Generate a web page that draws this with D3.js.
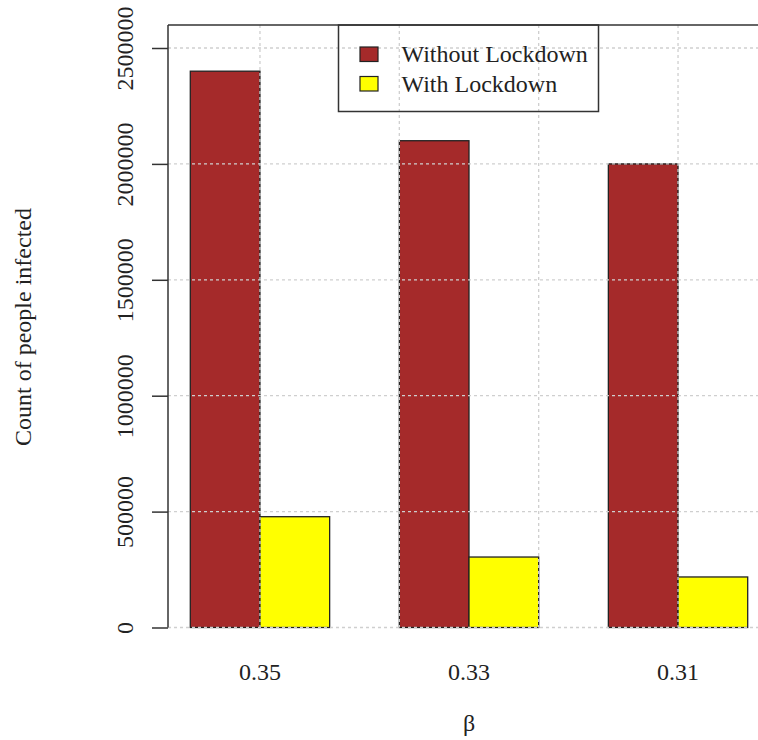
<!DOCTYPE html>
<html><head><meta charset="utf-8">
<script src="https://cdn.jsdelivr.net/npm/d3@7"></script>
<style>html,body{margin:0;padding:0;background:#fff;overflow:hidden}</style>
</head><body>
<script>
const categories = ["0.35", "0.33", "0.31"];
const seriesNames = ["Without Lockdown", "With Lockdown"];
const withoutLockdown = [2400000, 2100000, 2000000];
const withLockdown = [478000, 304000, 218000];
const yTicks = [0, 500000, 1000000, 1500000, 2000000, 2500000];
const xGridUnits = [2, 4, 6, 8];
const colors = ["#A52A2A", "#FFFF00"];

const W = 758, H = 740;
const svg = d3.select("body").append("svg").attr("width", W).attr("height", H);
const font = "'Liberation Serif','Times New Roman',serif";
const fs = 24;

// R barplot-like unit scale: groups of 2 bars with 1 unit space before
const x = d3.scaleLinear().domain([0.68, 9.32]).range([168, 770]);
const y = d3.scaleLinear().domain([0, 2500000]).range([627.5, 48]);

const data = categories.map((c, i) => ({cat: c, vals: [withoutLockdown[i], withLockdown[i]], start: 1 + i * 3}));

// bars
const g = svg.append("g");
data.forEach(d => {
  d.vals.forEach((v, j) => {
    g.append("rect")
      .attr("x", x(d.start + j)).attr("width", x(d.start + j + 1) - x(d.start + j))
      .attr("y", y(v)).attr("height", y(0) - y(v))
      .attr("fill", colors[j]).attr("stroke", "#222").attr("stroke-width", 1.3);
  });
});

// grid (drawn on top)
const grid = svg.append("g").attr("stroke", "#cfcfcf").attr("stroke-width", 1.3).attr("stroke-dasharray", "3,3");
yTicks.forEach(t => grid.append("line").attr("x1", 168).attr("x2", 770).attr("y1", y(t)).attr("y2", y(t)));
xGridUnits.forEach(u => grid.append("line").attr("x1", x(u)).attr("x2", x(u)).attr("y1", 25).attr("y2", 627.5));

// axis frame lines
svg.append("line").attr("x1", 168).attr("x2", 168).attr("y1", 25).attr("y2", 627.5).attr("stroke", "#333").attr("stroke-width", 1.5);
svg.append("line").attr("x1", 168).attr("x2", 770).attr("y1", 25).attr("y2", 25).attr("stroke", "#333").attr("stroke-width", 1.5);

// y axis ticks & labels
const yAxis = d3.axisLeft(y).tickValues(yTicks).tickSize(16).tickFormat(d3.format("d"));
const ya = svg.append("g").attr("transform", "translate(168,0)").call(yAxis);
ya.select(".domain").remove();
ya.selectAll(".tick line").attr("stroke", "#333").attr("stroke-width", 1.5);
ya.selectAll(".tick text")
  .attr("x", 0).attr("y", 0).attr("dy", null)
  .attr("transform", "translate(-35,0) rotate(-90)")
  .attr("text-anchor", "middle")
  .attr("font-family", font).attr("font-size", fs).attr("fill", "#222");

// x category labels
data.forEach(d => {
  svg.append("text").attr("x", x(d.start + 1)).attr("y", 680)
    .attr("text-anchor", "middle").attr("font-family", font).attr("font-size", fs).attr("fill", "#222")
    .text(d.cat);
});

// axis titles
svg.append("text").attr("transform", "translate(31,327) rotate(-90)")
  .attr("text-anchor", "middle").attr("font-family", font).attr("font-size", fs).attr("fill", "#222")
  .text("Count of people infected");
svg.append("text").attr("x", 469).attr("y", 731)
  .attr("text-anchor", "middle").attr("font-family", font).attr("font-size", fs).attr("fill", "#222")
  .text("β");

// legend
const lg = svg.append("g");
lg.append("rect").attr("x", 338.5).attr("y", 25).attr("width", 260).attr("height", 86.5)
  .attr("fill", "none").attr("stroke", "#333").attr("stroke-width", 1.5);
seriesNames.forEach((s, i) => {
  lg.append("rect").attr("x", 360).attr("y", 47 + i * 29.5).attr("width", 18).attr("height", 14.5)
    .attr("fill", colors[i]).attr("stroke", "#222").attr("stroke-width", 1.2);
  lg.append("text").attr("x", 401.5).attr("y", 62 + i * 29.5)
    .attr("font-family", font).attr("font-size", fs).attr("fill", "#222").text(s);
});
</script>
</body></html>
